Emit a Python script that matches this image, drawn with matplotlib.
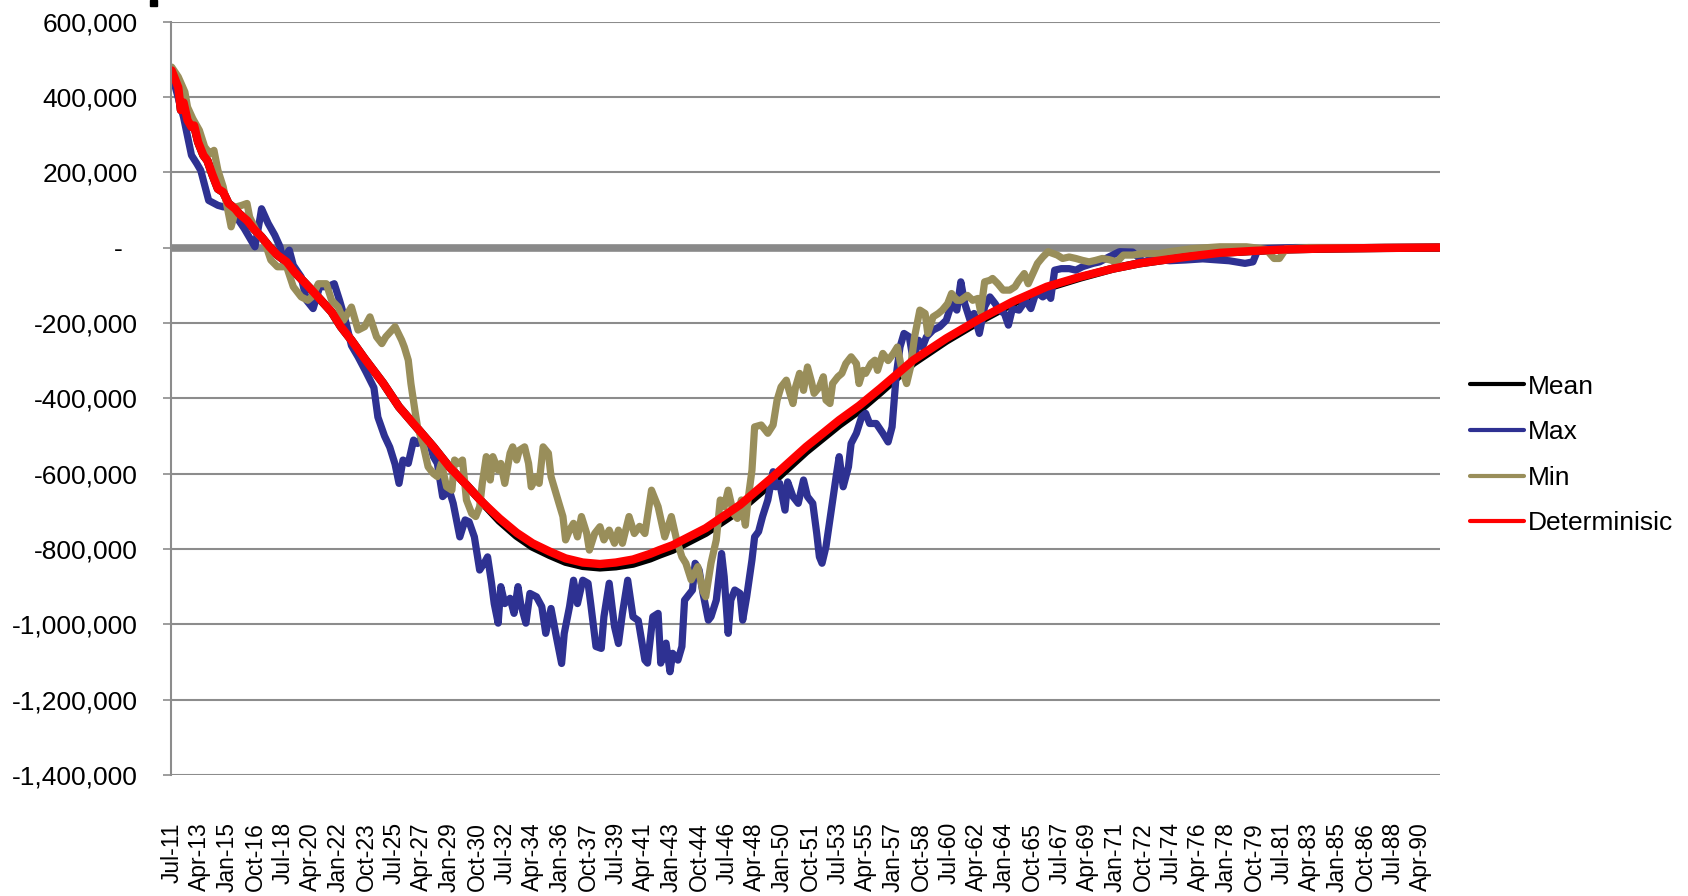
import numpy as np
import matplotlib
matplotlib.use("Agg")
import matplotlib.pyplot as plt
from matplotlib.patches import Rectangle

plt.rcParams['font.family'] = ['Liberation Sans', 'DejaVu Sans']

# === DATA (month index from Jul-11, values in thousands) ===

n_months = 960

det_m = [0, 5, 7, 9, 12, 15, 17, 20, 24, 27, 31, 35, 39, 43, 48, 51, 57, 62, 68, 74,
         80, 87, 93, 99, 106, 113, 121, 128, 136, 146, 160, 172, 185, 198, 210, 223,
         235, 248, 261, 273, 286, 298, 311, 324, 336, 349, 362, 369, 379, 404, 430,
         455, 480, 505, 520, 536, 561, 586, 611, 636, 662, 687, 712, 732, 742, 767,
         793, 818, 843, 868, 893, 918, 959]
det_k = [470, 425, 365, 385, 338, 320, 324, 280, 245, 231, 192, 156, 147, 117, 103, 90,
         72, 50, 28, 2, -20, -38, -65, -87, -113, -140, -171, -210, -246, -295, -360,
         -423, -476, -529, -582, -630, -676, -719, -757, -785, -807, -825, -836, -840,
         -836, -828, -813, -803, -790, -745, -683, -608, -529, -458, -420, -374, -299,
         -241, -190, -144, -104, -78, -56, -42, -37, -25, -14, -9, -5, -3, -2, -1, 0]
mean_k = [470, 425, 365, 385, 338, 320, 324, 280, 245, 231, 192, 156, 147, 117, 103, 90,
          72, 50, 28, 2, -20, -38, -65, -87, -113, -140, -171, -210, -246, -295, -360,
          -423, -476, -529, -582, -630, -676, -725, -765, -794, -816, -834, -845, -849,
          -846, -839, -825, -815, -802, -757, -696, -621, -541, -470, -432, -384, -306,
          -247, -195, -148, -107, -80, -56, -42, -37, -25, -14, -9, -5, -3, -2, -1, 0]

max_m = [0, 9, 15, 19, 22, 28, 35, 39, 44, 49, 55, 63, 67, 68, 73, 78, 82, 84, 89, 92,
         98, 102, 107, 112, 118, 123, 127, 132, 136, 141, 147, 153, 156, 161, 165, 169,
         172, 175, 179, 183, 186, 190, 195, 198, 201, 205, 210, 213, 218, 222, 225, 229,
         233, 237, 239, 242, 244, 247, 249, 252, 256, 259, 262, 264, 268, 271, 276, 280,
         283, 287, 291, 295, 297, 301, 304, 307, 311, 315, 317, 321, 325, 327, 331, 335,
         338, 341, 345, 349, 353, 358, 360, 364, 368, 370, 374, 377, 379, 383, 386, 388,
         392, 394, 396, 399, 402, 406, 408, 412, 416, 418, 421, 423, 426, 430, 432, 435,
         439, 441, 444, 447, 451, 455, 457, 460, 464, 466, 470, 474, 478, 481, 485, 488,
         490, 492, 495, 499, 503, 505, 508, 512, 514, 518, 522, 525, 528, 533, 538, 542,
         545, 548, 551, 554, 558, 561, 565, 568, 571, 576, 581, 586, 590, 594, 597, 600,
         604, 607, 611, 615, 619, 623, 626, 630, 633, 636, 641, 646, 650, 654, 659, 663,
         665, 668, 673, 679, 684, 689, 697, 702, 709, 717, 727, 735, 742, 755, 767, 780,
         800, 812, 818, 822, 850, 900, 959]
max_k = [461, 346, 245, 223, 205, 125, 112, 108, 108, 81, 50, 2, 81, 103, 64, 33, 2, -33,
         -7, -47, -78, -140, -162, -104, -104, -96, -140, -201, -260, -290, -330, -372,
         -450, -500, -530, -575, -626, -564, -573, -511, -520, -502, -516, -555, -573,
         -661, -644, -679, -768, -723, -728, -768, -856, -834, -821, -891, -945, -997,
         -900, -945, -931, -971, -900, -945, -997, -918, -927, -953, -1024, -958, -1033,
         -1104, -1024, -953, -883, -945, -883, -891, -945, -1059, -1064, -980, -891,
         -1006, -1051, -971, -883, -980, -990, -1095, -1103, -980, -971, -1103, -1050,
         -1126, -1077, -1095, -1059, -936, -918, -909, -838, -856, -918, -989, -980, -936,
         -812, -874, -1024, -936, -909, -918, -989, -927, -829, -768, -754, -714, -670,
         -595, -635, -626, -697, -622, -661, -679, -617, -661, -679, -759, -821, -838,
         -794, -697, -600, -555, -635, -582, -520, -493, -449, -440, -467, -467, -493,
         -516, -476, -343, -264, -228, -237, -299, -246, -264, -237, -219, -210, -193,
         -149, -166, -91, -149, -193, -175, -228, -157, -131, -149, -166, -175, -206,
         -162, -166, -140, -162, -118, -131, -122, -135, -60, -56, -56, -60, -51, -42,
         -38, -25, -11, -12, -38, -30, -35, -33, -30, -35, -42, -38, -3, 0, 0, 0]

min_m = [0, 5, 10, 12, 16, 21, 25, 29, 32, 35, 39, 43, 45, 49, 53, 57, 59, 65, 70, 75,
         80, 87, 92, 98, 103, 106, 111, 117, 121, 126, 130, 136, 141, 146, 150, 155, 159,
         162, 169, 174, 176, 179, 181, 184, 186, 190, 194, 198, 201, 204, 208, 212, 214,
         217, 220, 223, 227, 230, 233, 235, 238, 241, 243, 247, 249, 252, 256, 258, 261,
         263, 267, 270, 272, 276, 278, 281, 285, 287, 290, 293, 296, 298, 301, 304, 307,
         310, 314, 316, 320, 324, 327, 331, 335, 338, 341, 346, 350, 354, 358, 363, 368,
         373, 378, 382, 386, 389, 393, 398, 402, 404, 408, 412, 415, 418, 421, 425, 428,
         431, 434, 436, 439, 441, 446, 451, 455, 458, 461, 465, 467, 470, 472, 475, 478,
         481, 484, 486, 490, 493, 495, 498, 500, 504, 507, 510, 514, 518, 520, 523, 525,
         529, 532, 534, 538, 542, 546, 549, 552, 556, 559, 562, 566, 570, 572, 576, 580,
         583, 587, 590, 594, 597, 602, 606, 610, 612, 615, 619, 621, 625, 629, 634, 638,
         641, 645, 648, 652, 655, 659, 663, 667, 670, 674, 679, 684, 689, 694, 699, 704,
         709, 715, 720, 727, 735, 747, 755, 772, 793, 813, 818, 828, 834, 838, 843, 860,
         900, 959]
min_k = [479, 453, 413, 373, 342, 311, 267, 249, 258, 205, 161, 90, 55, 108, 112, 117, 81,
         37, 19, -33, -51, -51, -104, -131, -140, -131, -96, -96, -140, -158, -193, -158,
         -219, -210, -184, -237, -255, -237, -210, -246, -264, -299, -361, -432, -476,
         -520, -582, -600, -608, -573, -635, -644, -564, -573, -564, -670, -706, -714,
         -688, -626, -555, -617, -555, -591, -573, -626, -546, -529, -564, -538, -529,
         -573, -635, -608, -626, -529, -546, -608, -644, -679, -714, -776, -750, -732,
         -768, -714, -759, -803, -759, -741, -776, -750, -785, -750, -785, -714, -759,
         -740, -759, -644, -688, -768, -714, -776, -821, -838, -882, -847, -913, -927,
         -838, -776, -670, -688, -644, -706, -719, -670, -737, -670, -591, -476, -471,
         -493, -471, -405, -370, -352, -379, -414, -370, -334, -379, -317, -356, -387,
         -370, -343, -405, -414, -361, -343, -334, -308, -290, -308, -361, -326, -334,
         -308, -299, -326, -281, -300, -281, -264, -317, -361, -317, -237, -166, -175,
         -228, -184, -175, -166, -149, -122, -140, -140, -127, -140, -135, -171, -91, -87,
         -82, -96, -113, -113, -104, -87, -69, -96, -65, -42, -25, -11, -16, -20, -29,
         -25, -29, -34, -38, -34, -29, -32, -38, -20, -20, -16, -16, -11, -3, 2, 2, 0, -5,
         -29, -29, -3, 0, 0, 0]

x_ticklabels = ['Jul-11', 'Apr-13', 'Jan-15', 'Oct-16', 'Jul-18', 'Apr-20', 'Jan-22',
                'Oct-23', 'Jul-25', 'Apr-27', 'Jan-29', 'Oct-30', 'Jul-32', 'Apr-34',
                'Jan-36', 'Oct-37', 'Jul-39', 'Apr-41', 'Jan-43', 'Oct-44', 'Jul-46',
                'Apr-48', 'Jan-50', 'Oct-51', 'Jul-53', 'Apr-55', 'Jan-57', 'Oct-58',
                'Jul-60', 'Apr-62', 'Jan-64', 'Oct-65', 'Jul-67', 'Apr-69', 'Jan-71',
                'Oct-72', 'Jul-74', 'Apr-76', 'Jan-78', 'Oct-79', 'Jul-81', 'Apr-83',
                'Jan-85', 'Oct-86', 'Jul-88', 'Apr-90']
tick_step = 21

y_ticks = [600000, 400000, 200000, 0, -200000, -400000, -600000, -800000,
           -1000000, -1200000, -1400000]
y_ticklabels = ['600,000', '400,000', '200,000', '-  ', '-200,000', '-400,000',
                '-600,000', '-800,000', '-1,000,000', '-1,200,000', '-1,400,000']

# === PLOT ===

grey = '#8c8c8c'

fig = plt.figure(figsize=(16.88, 8.96), dpi=100)
ax = fig.add_axes([171 / 1688, 121 / 896, 1269 / 1688, 753.5 / 896])

ax.set_xlim(-0.5, n_months - 0.5)
ax.set_ylim(-1400000, 600000)

ax.set_yticks(y_ticks)
ax.set_yticklabels(y_ticklabels)
ax.yaxis.grid(True, color=grey, lw=1.5, zorder=0)
ax.set_axisbelow(True)

ax.set_xticks(np.arange(len(x_ticklabels)) * tick_step)
ax.set_xticklabels(x_ticklabels, rotation=90, va='top', ha='center')

for s in ['top', 'right', 'bottom']:
    ax.spines[s].set_visible(False)
ax.spines['left'].set_color(grey)
ax.spines['left'].set_linewidth(1.5)

ax.tick_params(axis='y', labelsize=19, length=6, width=1.2, color=grey, pad=18)
ax.tick_params(axis='x', labelsize=16.5, length=0, pad=34)

# thick horizontal axis line at zero
ax.axhline(0, color='#898989', lw=5.5, zorder=1)

line_kw = dict(solid_capstyle='round', solid_joinstyle='round', zorder=2)
ax.plot(det_m, np.array(mean_k) * 1000, color='black', lw=6.0, label='Mean', **line_kw)
ax.plot(max_m, np.array(max_k) * 1000, color='#2e3192', lw=5.2, label='Max', **line_kw)
ax.plot(min_m, np.array(min_k) * 1000, color='#998e5a', lw=5.2, label='Min', **line_kw)
ax.plot(det_m, np.array(det_k) * 1000, color='#ff0000', lw=6.0, label='Determinisic', **line_kw)

leg = ax.legend(loc='center left', bbox_to_anchor=(1470 / 1688, 1 - 455 / 896),
                bbox_transform=fig.transFigure, frameon=False, fontsize=19,
                handlelength=2.05, handletextpad=0.15, labelspacing=0.82,
                borderpad=0, borderaxespad=0)
for h in leg.get_lines():
    h.set_linewidth(3.0)

# cut-off title fragment at the top edge
fig.add_artist(Rectangle((150 / 1688, 1 - 6 / 896), 7 / 1688, 6 / 896,
                         color='black', transform=fig.transFigure))

fig.savefig('out.png', dpi=100)
